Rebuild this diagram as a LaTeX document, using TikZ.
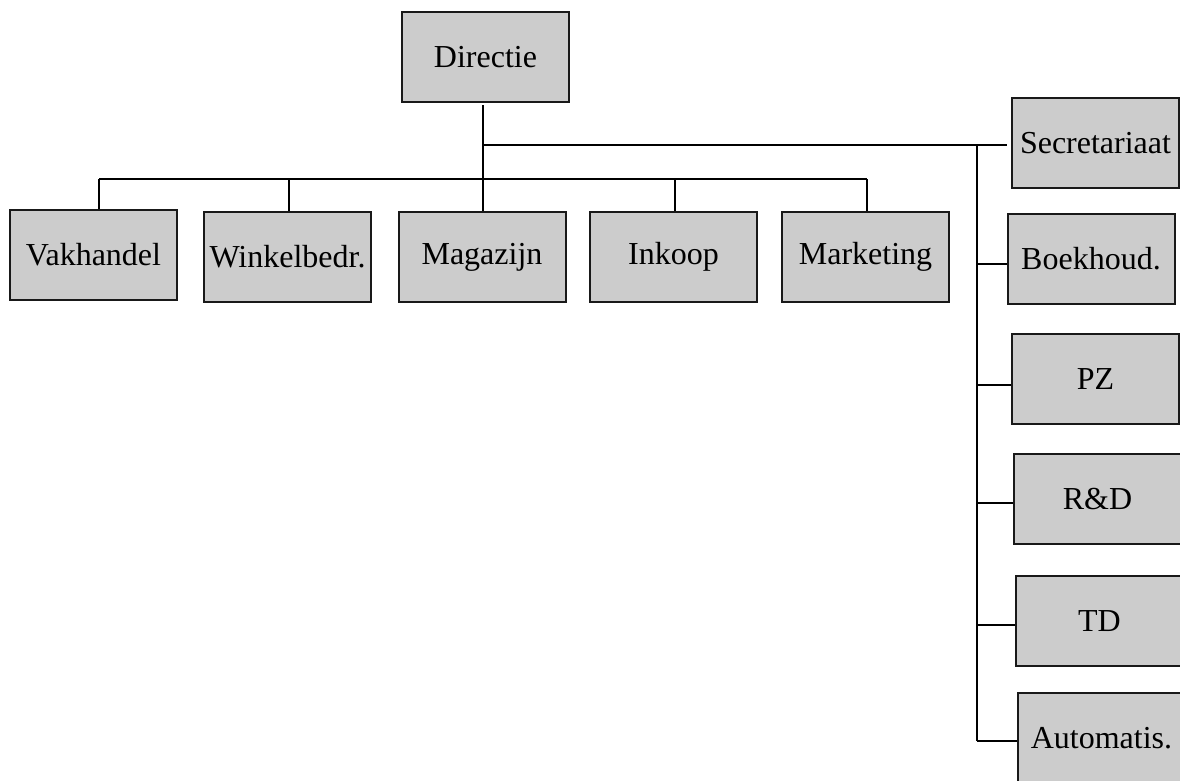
\documentclass[tikz,border=0pt]{standalone}
\usepackage{fontspec}
\setmainfont{Liberation Serif}
\begin{document}
\begin{tikzpicture}[x=1pt,y=-1pt,
  dept/.style={draw=black!90,line width=2pt,fill=black!20,minimum width=167pt,
    minimum height=90pt,inner sep=0pt,font=\fontsize{32}{38}\selectfont},
  conn/.style={draw=black,line width=2pt}]
\useasboundingbox (0,0) rectangle (1180,780);
\clip (0,0) rectangle (1180,780);

% boxes
\node[dept] (dir)  at (485.5,57)  {Directie};
\node[dept] (vak)  at (93.5,255)  {Vakhandel};
\node[dept] (win)  at (287.5,257) {Winkelbedr.};
\node[dept] (mag)  at (482,257)   {Magazijn};
\node[dept] (ink)  at (673.5,257) {Inkoop};
\node[dept] (mkt)  at (865.5,257) {Marketing};
\node[dept] (sec)  at (1095.5,143) {Secretariaat};
\node[dept] (boek) at (1091,259)  {Boekhoud.};
\node[dept] (pz)   at (1095.5,379) {PZ};
\node[dept] (rd)   at (1097.5,499) {R\&D};
\node[dept] (td)   at (1099.5,621) {TD};
\node[dept] (aut)  at (1101.5,738) {Automatis.};

% junction points
\coordinate (dtop) at (483,105);
\coordinate (j1)   at (483,145);
\coordinate (secin) at (1007,145);
\coordinate (r0)   at (977,145);
\coordinate (busL) at (99,179);
\coordinate (busR) at (867,179);
\coordinate (t2)   at (289,179);
\coordinate (t4)   at (675,179);
\coordinate (b1)   at (977,264);
\coordinate (b2)   at (977,385);
\coordinate (b3)   at (977,503);
\coordinate (b4)   at (977,625);
\coordinate (b5)   at (977,741);

% main trunk and buses
\draw[conn] (dtop) -- (dtop |- mag.north);
\draw[conn] (j1) -- (secin);
\draw[conn] (busL) -- (busR);
\draw[conn] (busL) -- (busL |- vak.north);
\draw[conn] (t2) -- (t2 |- win.north);
\draw[conn] (t4) -- (t4 |- ink.north);
\draw[conn] (busR) -- (busR |- mkt.north);

% staff column
\draw[conn] (r0) -- (b5);
\draw[conn] (b1) -- (boek.west |- b1);
\draw[conn] (b2) -- (pz.west |- b2);
\draw[conn] (b3) -- (rd.west |- b3);
\draw[conn] (b4) -- (td.west |- b4);
\draw[conn] (b5) -- (aut.west |- b5);
\end{tikzpicture}
\end{document}
